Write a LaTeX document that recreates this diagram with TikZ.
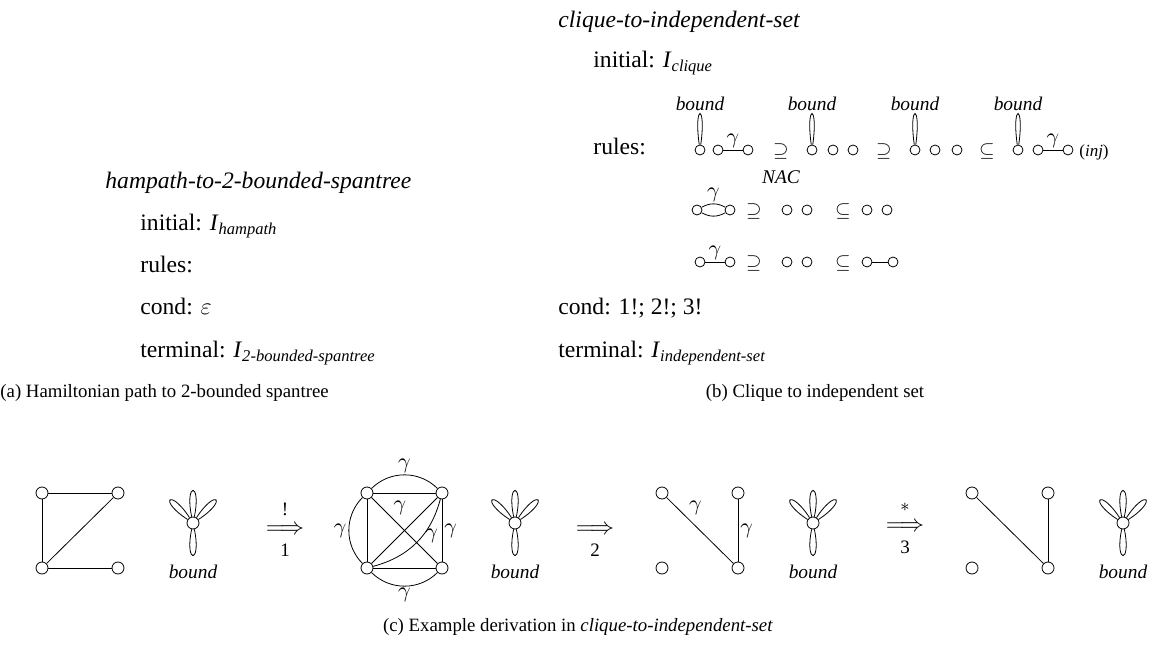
\documentclass[tikz,border=0pt]{standalone}
\usepackage{amsmath}
\usepackage[no-math]{fontspec}
\setmainfont{Liberation Serif}
\usetikzlibrary{positioning}

\tikzset{
  vtx/.style={circle,draw,inner sep=0pt,minimum size=6pt},
  rvtx/.style={circle,draw,inner sep=0pt,minimum size=5pt},
  body/.style={anchor=base west,inner sep=0pt,font=\fontsize{11.8}{14}\selectfont},
  capt/.style={inner sep=0pt,font=\fontsize{9.4}{11}\selectfont},
  glbl/.style={inner sep=1pt,font=\fontsize{10.5}{12}\selectfont},
  tag/.style={inner sep=0pt,font=\fontsize{9.7}{11}\selectfont\itshape},
  rel/.style={inner sep=0pt,font=\fontsize{10}{12}\selectfont},
  steplbl/.style={inner sep=0pt,font=\fontsize{9.5}{11}\selectfont},
  derive/.style={inner sep=0pt,font=\fontsize{12.5}{15}\selectfont},
  petal/.style={distance=18pt},
  hoop/.style={distance=21pt},
}

\begin{document}
\begin{tikzpicture}[x=0.5pt,y=-0.5pt]
\useasboundingbox (0,0) rectangle (1156,657);
% (a)
\node[body] (atitle) at (105,189) {\textit{hampath-to-2-bounded-spantree}};
\node[body] (ainit) at (140,231) {initial: \textit{I}$_{\textit{hampath}}$};
\node[body] (arules) at (140,273) {rules:};
\node[body] (acond) at (140,315) {cond: $\varepsilon$};
\node[body] (aterm) at (140,358) {terminal: \textit{I}$_{\textit{2-bounded-spantree}}$};
\node[capt,anchor=base west] (acap) at (0,398) {(a) Hamiltonian path to 2-bounded spantree};
% (b)
\node[body] (btitle) at (558,28) {\textit{clique-to-independent-set}};
\node[body] (binit) at (593,68) {initial: \textit{I}$_{\textit{clique}}$};
\node[body] (brules) at (593,155) {rules:};
\node[body] (bcond) at (558,315) {cond: 1!; 2!; 3!};
\node[body] (bterm) at (558,358) {terminal: \textit{I}$_{\textit{independent-set}}$};
\node[capt,anchor=base] (bcap) at (815,398) {(b) Clique to independent set};
% rule 1
\node[rvtx] (p1) at (700,150) {};
\draw (p1) to[hoop,out=82,in=98] (p1);
\node[tag] (p1b) at (700,104) {bound};
\node[rvtx] (p2) at (718,150) {};
\node[rvtx] (p3) at (748,150) {};
\draw (p2) -- node[glbl,above] (p23g) {$\gamma$} (p3);
\node[rel] (s1) at (781,152) {$\supseteq$};
\node[tag,below=5pt of s1] (s1n) {NAC};
\node[rvtx] (p4) at (812,150) {};
\draw (p4) to[hoop,out=82,in=98] (p4);
\node[tag] (p4b) at (812,104) {bound};
\node[rvtx] (p5) at (833,150) {};
\node[rvtx] (p6) at (853,150) {};
\node[rel] (s2) at (884,152) {$\supseteq$};
\node[rvtx] (p7) at (915,150) {};
\draw (p7) to[hoop,out=82,in=98] (p7);
\node[tag] (p7b) at (915,104) {bound};
\node[rvtx] (p8) at (935,150) {};
\node[rvtx] (p9) at (957,150) {};
\node[rel] (s3) at (987,152) {$\subseteq$};
\node[rvtx] (p10) at (1018,150) {};
\draw (p10) to[hoop,out=82,in=98] (p10);
\node[tag] (p10b) at (1018,104) {bound};
\node[rvtx] (p11) at (1038,150) {};
\node[rvtx] (p12) at (1068,150) {};
\draw (p11) -- node[glbl,above] (p1112g) {$\gamma$} (p12);
\node[rel,font=\fontsize{8.5}{10}\selectfont] (inj) at (1094,152) {(\textit{inj})};
% rule 2
\node[rvtx] (q1) at (697,210) {};
\node[rvtx] (q2) at (730,210) {};
\draw (q1) to[bend left=30] node[glbl,above] (q12g) {$\gamma$} (q2);
\draw (q1) to[bend right=30] (q2);
\node[rel] (s4) at (754,212) {$\supseteq$};
\node[rvtx] (q3) at (787,210) {};
\node[rvtx] (q4) at (807,210) {};
\node[rel] (s5) at (843,212) {$\subseteq$};
\node[rvtx] (q5) at (867,210) {};
\node[rvtx] (q6) at (887,210) {};
% rule 3
\node[rvtx] (t1) at (700,262) {};
\node[rvtx] (t2) at (730,262) {};
\draw (t1) -- node[glbl,above] (t12g) {$\gamma$} (t2);
\node[rel] (s6) at (754,264) {$\supseteq$};
\node[rvtx] (t3) at (787,262) {};
\node[rvtx] (t4) at (807,262) {};
\node[rel] (s7) at (843,264) {$\subseteq$};
\node[rvtx] (t5) at (867,262) {};
\node[rvtx] (t6) at (893,262) {};
\draw (t5) -- (t6);
% (c) start graph
\node[vtx] (g1) at (42,493) {};
\node[vtx] (g2) at (118,493) {};
\node[vtx] (g3) at (42,568) {};
\node[vtx] (g4) at (118,568) {};
\draw (g1) -- (g2);
\draw (g1) -- (g3);
\draw (g3) -- (g2);
\draw (g3) -- (g4);
\node[vtx] (f1) at (193,523) {};
\draw (f1) to[petal,out=102,in=78] (f1);
\draw (f1) to[petal,out=57,in=33] (f1);
\draw (f1) to[petal,out=147,in=123] (f1);
\draw (f1) to[petal,out=282,in=258] (f1);
\node[tag] (f1b) at (193,572) {bound};
\node[derive] (ar1) at (285,530) {$\Longrightarrow$};
\node[steplbl] (ar1t) at (285,509) {!};
\node[steplbl] (ar1b) at (285,550) {1};
% after rule 1
\node[vtx] (k1) at (367,493) {};
\node[vtx] (k2) at (442,493) {};
\node[vtx] (k3) at (367,568) {};
\node[vtx] (k4) at (442,568) {};
\draw (k1) -- (k2);
\draw (k1) -- (k3);
\draw (k3) -- (k4);
\draw (k3) -- (k2);
\draw (k1) -- node[glbl,pos=.3,anchor=south west] (k14g) {$\gamma$} (k4);
\draw (k2) -- node[glbl,right] (k24g) {$\gamma$} (k4);
\draw (k1) to[bend left=45] node[glbl,above] (k12g) {$\gamma$} (k2);
\draw (k1) to[bend right=45] node[glbl,left] (k13g) {$\gamma$} (k3);
\draw (k3) to[bend right=45] node[glbl,below] (k34g) {$\gamma$} (k4);
\draw (k3) to[bend right=30] node[glbl,pos=.6,right] (k32g) {$\gamma$} (k2);
\node[vtx] (f2) at (515,523) {};
\draw (f2) to[petal,out=102,in=78] (f2);
\draw (f2) to[petal,out=57,in=33] (f2);
\draw (f2) to[petal,out=147,in=123] (f2);
\draw (f2) to[petal,out=282,in=258] (f2);
\node[tag] (f2b) at (515,572) {bound};
\node[derive] (ar2) at (595,530) {$\Longrightarrow$};
\node[steplbl] (ar2b) at (595,550) {2};
% after rule 2
\node[vtx] (h1) at (662,493) {};
\node[vtx] (h2) at (738,493) {};
\node[vtx] (h3) at (662,568) {};
\node[vtx] (h4) at (738,568) {};
\draw (h1) -- node[glbl,pos=.3,anchor=south west] (h14g) {$\gamma$} (h4);
\draw (h2) -- node[glbl,right] (h24g) {$\gamma$} (h4);
\node[vtx] (f3) at (813,523) {};
\draw (f3) to[petal,out=102,in=78] (f3);
\draw (f3) to[petal,out=57,in=33] (f3);
\draw (f3) to[petal,out=147,in=123] (f3);
\draw (f3) to[petal,out=282,in=258] (f3);
\node[tag] (f3b) at (813,572) {bound};
\node[derive] (ar3) at (905,527) {$\Longrightarrow$};
\node[steplbl] (ar3t) at (905,507) {$\ast$};
\node[steplbl] (ar3b) at (905,547) {3};
% after rule 3
\node[vtx] (m1) at (972,493) {};
\node[vtx] (m2) at (1048,493) {};
\node[vtx] (m3) at (972,568) {};
\node[vtx] (m4) at (1048,568) {};
\draw (m1) -- (m4);
\draw (m2) -- (m4);
\node[vtx] (f4) at (1123,523) {};
\draw (f4) to[petal,out=102,in=78] (f4);
\draw (f4) to[petal,out=57,in=33] (f4);
\draw (f4) to[petal,out=147,in=123] (f4);
\draw (f4) to[petal,out=282,in=258] (f4);
\node[tag] (f4b) at (1123,572) {bound};
\node[capt,anchor=base] (ccap) at (578,631) {(c) Example derivation in \textit{clique-to-independent-set}};
\end{tikzpicture}
\end{document}
